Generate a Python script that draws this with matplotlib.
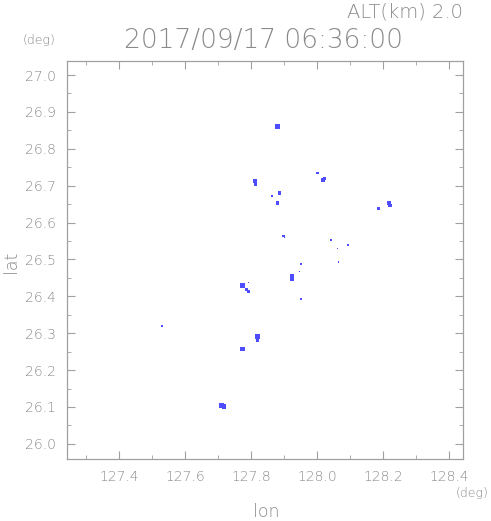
import matplotlib
matplotlib.use("Agg")
import matplotlib.pyplot as plt
from matplotlib.ticker import MultipleLocator, FormatStrFormatter

# Echo cells (lon, lat, relative size in px)
lon = [127.879, 127.812, 127.814, 128.002, 128.019, 128.022, 127.886, 127.864,
       127.880, 128.219, 128.221, 128.185, 127.898, 127.901, 128.042, 128.094,
       128.061, 128.065, 127.952, 127.946, 127.925, 127.925, 127.774, 127.792,
       127.787, 127.793, 127.951, 127.531, 127.819, 127.821, 127.774, 127.711,
       127.718]
lat = [26.860, 26.712, 26.703, 26.735, 26.715, 26.719, 26.681, 26.673,
       26.653, 26.653, 26.646, 26.637, 26.564, 26.560, 26.553, 26.539,
       26.529, 26.494, 26.487, 26.467, 26.456, 26.448, 26.429, 26.437,
       26.419, 26.413, 26.393, 26.319, 26.290, 26.280, 26.258, 26.104,
       26.101]
size_px = [4, 3, 3, 2, 3, 2, 3, 1.5,
           2.5, 3, 3, 2.5, 2, 1, 1.5, 1.2,
           1, 1.5, 1.2, 1, 3, 3, 4, 1,
           2.5, 2, 1.5, 1.2, 4, 2.5, 3.5, 4,
           3.5]

title = "2017/09/17 06:36:00"
alt_label = "ALT(km) 2.0"

plt.rcParams["font.family"] = ["DejaVu Sans"]
plt.rcParams["font.weight"] = "light"
gray = "#8a8a8a"
W, H = 491, 521
fig = plt.figure(figsize=(W / 100, H / 100), dpi=100)
ax = fig.add_axes([66.7 / W, 1 - 459 / H, (463 - 66.7) / W, (459 - 61) / H])

sizes = [(s * 0.72 * 1.25) ** 2 for s in size_px]
ax.scatter(lon, lat, s=sizes, marker="s", color="#4d4dff", linewidths=0)

ax.set_xlim(127.242, 128.442)
ax.set_ylim(25.959, 27.038)
ax.xaxis.set_major_locator(MultipleLocator(0.2))
ax.xaxis.set_minor_locator(MultipleLocator(0.1))
ax.yaxis.set_major_locator(MultipleLocator(0.1))
ax.yaxis.set_minor_locator(MultipleLocator(0.05))
ax.xaxis.set_major_formatter(FormatStrFormatter("%.1f"))
ax.yaxis.set_major_formatter(FormatStrFormatter("%.1f"))
ax.tick_params(which="both", direction="in", top=True, right=True,
               colors="#a0a0a0", labelcolor=gray, labelsize=10)
ax.tick_params(which="major", length=6, width=0.8, pad=8)
ax.tick_params(which="minor", length=3, width=0.6)
for sp in ax.spines.values():
    sp.set_color("#a0a0a0")
    sp.set_linewidth(0.9)

fig.text(463 / W, 1 - 12 / H, alt_label, ha="right", va="center", fontsize=14, color=gray)
fig.text(264 / W, 1 - 40 / H, title, ha="center", va="center", fontsize=19, color=gray)
fig.text(39 / W, 1 - 40 / H, "(deg)", ha="center", va="center", fontsize=9, color=gray)
fig.text(472 / W, 1 - 493 / H, "(deg)", ha="center", va="center", fontsize=9, color=gray)
fig.text(266 / W, 1 - 512 / H, "lon", ha="center", va="center", fontsize=12.5, color=gray)
fig.text(11 / W, 1 - 262 / H, "lat", ha="center", va="center", fontsize=12.5, color=gray, rotation=90)

fig.savefig("out.png", dpi=100)
